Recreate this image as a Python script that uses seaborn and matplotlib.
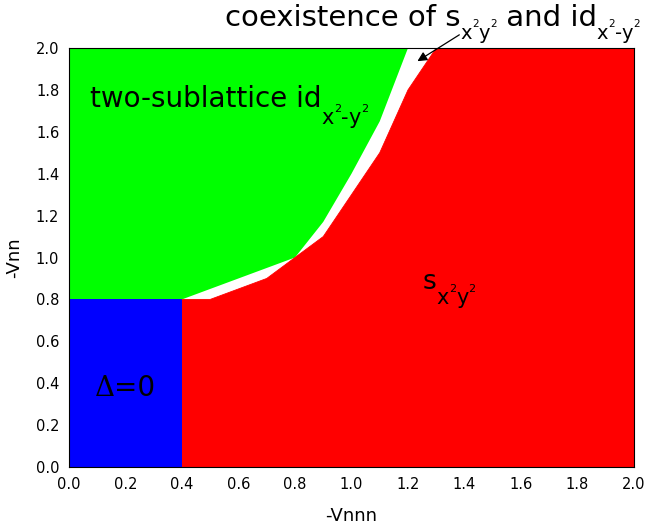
import matplotlib
matplotlib.use("Agg")
import matplotlib.pyplot as plt
from matplotlib.transforms import offset_copy
import seaborn as sns

# ---- data ----
# blue region (Delta = 0)
blue_x = [0.0, 0.4, 0.4, 0.0]
blue_y = [0.0, 0.0, 0.8, 0.8]
# boundary of the two-sublattice id phase (green), from (0.4,0.8) up to top edge
green_bx = [0.4, 0.8, 0.9, 1.0, 1.1, 1.2]
green_by = [0.8, 1.0, 1.17, 1.4, 1.65, 2.0]
# boundary of the s phase (red), from (0.4,0.8) up to top edge
red_bx = [0.4, 0.5, 0.7, 0.8, 0.9, 1.1, 1.2, 1.25, 1.3]
red_by = [0.8, 0.8, 0.9, 1.0, 1.1, 1.5, 1.8, 1.9, 2.0]
x_ticks = [0.0, 0.2, 0.4, 0.6, 0.8, 1.0, 1.2, 1.4, 1.6, 1.8, 2.0]
y_ticks = [0.0, 0.2, 0.4, 0.6, 0.8, 1.0, 1.2, 1.4, 1.6, 1.8, 2.0]

sns.set_theme(style="white")
plt.rcParams["font.family"] = ["DejaVu Sans"]
plt.rcParams["text.color"] = "black"
plt.rcParams["axes.labelcolor"] = "black"
plt.rcParams["xtick.color"] = "black"
plt.rcParams["ytick.color"] = "black"

fig = plt.figure(figsize=(6.46, 5.30), dpi=100)
ax = fig.add_axes([69/646, 1-467/530, (634-69)/646, (467-48)/530])

# polygons built from boundary lists
gx = [0.0] + green_bx + [0.0]
gy = [0.8] + green_by + [2.0]
ax.fill(gx, gy, color="#00ff00", lw=0)

rx = red_bx[::-1] + [0.4, 2.0, 2.0]
ry = red_by[::-1] + [0.0, 0.0, 2.0]
ax.fill(rx, ry, color="#ff0000", lw=0)

ax.fill(blue_x, blue_y, color="#0000ff", lw=0)

sns.lineplot(x=red_bx, y=red_by, ax=ax, color="#ff0000", lw=0.6, sort=False)

ax.set_xlim(0, 2.0)
ax.set_ylim(0, 2.0)
ax.set_xticks(x_ticks)
ax.set_yticks(y_ticks)
ax.set_xticklabels([f"{v:.1f}" for v in x_ticks], fontsize=10.5)
ax.set_yticklabels([f"{v:.1f}" for v in y_ticks], fontsize=10.5)
ax.tick_params(length=0, pad=7)
for s in ax.spines.values():
    s.set_color("black")
    s.set_linewidth(0.8)

ax.set_xlabel("-Vnnn", fontsize=13, labelpad=11)
ax.set_ylabel("-Vnn", fontsize=13, labelpad=9)

renderer = fig.canvas.get_renderer()


def rich(x, y, parts, family=None):
    """parts: list of (string, fontsize, dy_pixels_down)"""
    dx = 0.0
    for s, size, dy in parts:
        tr = offset_copy(ax.transData, fig=fig, x=dx, y=-dy, units="dots")
        kw = dict(fontsize=size, color="black", transform=tr, clip_on=False)
        if family:
            kw["family"] = family
        t = ax.text(x, y, s, **kw)
        dx += t.get_window_extent(renderer).width


def sub_xy(size_sub, size_sup, drop, hyphen):
    rise = drop - 12
    parts = [("x", size_sub, drop), ("2", size_sup, rise)]
    if hyphen:
        parts.append(("-", size_sub, drop))
    parts += [("y", size_sub, drop), ("2", size_sup, rise)]
    return parts


rich(0.074, 1.72,
     [("two-sublattice id", 20, 0)] + sub_xy(15, 8, 17, True))
rich(1.253, 0.85, [("s", 19, 0)] + sub_xy(15, 8, 15, False))
rich(0.552, 2.105,
     [("coexistence of s", 21, 0)] + sub_xy(14, 7.5, 13, False)
     + [(" and id", 21, 0)] + sub_xy(14, 7.5, 13, True))

ax.text(0.092, 0.34, "\u0394", fontsize=20, family="DejaVu Serif", color="black")
ax.text(0.158, 0.34, "=0", fontsize=20, color="black")

ax.annotate("", xy=(1.225, 1.93), xytext=(1.39, 2.07),
            arrowprops=dict(arrowstyle="-|>", color="black", lw=0.9,
                            mutation_scale=14),
            annotation_clip=False)

fig.savefig("out.png", dpi=100)
